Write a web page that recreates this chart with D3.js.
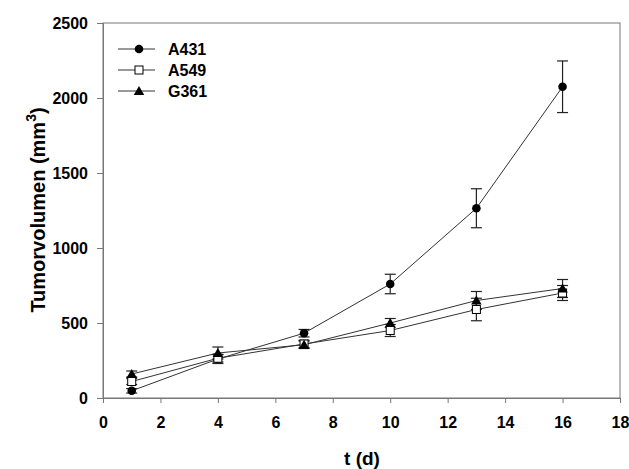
<!DOCTYPE html>
<html>
<head>
<meta charset="utf-8">
<script src="https://cdn.jsdelivr.net/npm/d3@7"></script>
<style>
  body { margin: 0; background: #fff; }
  text { font-family: "Liberation Sans", Arial, sans-serif; font-weight: bold; fill: #000; }
</style>
</head>
<body>
<svg id="chart" width="629" height="469"></svg>
<script>
// data
let days = [1, 4, 7, 10, 13, 16]
let a431 = [48, 260, 432, 760, 1265, 2075]
let a431Err = [15, 30, 25, 65, 130, 172]
let a549 = [110, 265, 360, 450, 590, 700]
let a549Err = [20, 25, 25, 40, 75, 50]
let g361 = [160, 300, 355, 500, 650, 730]
let g361Err = [20, 40, 25, 30, 60, 60]
let seriesNames = ['A431', 'A549', 'G361']
let xTicks = [0, 2, 4, 6, 8, 10, 12, 14, 16, 18]
let yTicks = [0, 500, 1000, 1500, 2000, 2500]

let svg = d3.select('#chart')
let plotLeft = 103, plotRight = 620, plotTop = 23, plotBottom = 398
let axisColor = '#777'

let x = d3.scaleLinear().domain([0, 18]).range([plotLeft, plotRight])
let y = d3.scaleLinear().domain([0, 2500]).range([plotBottom, plotTop])

// frame
svg.append('rect')
    .attr('x', plotLeft).attr('y', plotTop)
    .attr('width', plotRight - plotLeft).attr('height', plotBottom - plotTop)
    .attr('fill', 'none').attr('stroke', axisColor).attr('stroke-width', 1)

let xAxis = svg.append('g')
    .attr('transform', `translate(0,${plotBottom})`)
    .call(d3.axisBottom(x).tickValues(xTicks).tickFormat(d3.format('d')).tickSize(5).tickPadding(14))
let yAxis = svg.append('g')
    .attr('transform', `translate(${plotLeft},0)`)
    .call(d3.axisLeft(y).tickValues(yTicks).tickFormat(d3.format('d')).tickSize(6).tickPadding(9))

for (let ax of [xAxis, yAxis]) {
    ax.select('.domain').attr('stroke', axisColor)
    ax.selectAll('line').attr('stroke', axisColor)
    ax.selectAll('text').style('font-size', '16px')
        .style('font-family', '"Liberation Sans", Arial, sans-serif').style('font-weight', 'bold')
}

let series = [
    { name: seriesNames[0], vals: a431, err: a431Err, shape: 'circle' },
    { name: seriesNames[1], vals: a549, err: a549Err, shape: 'square' },
    { name: seriesNames[2], vals: g361, err: g361Err, shape: 'triangle' }
]

let line = d3.line().x(d => x(d[0])).y(d => y(d[1]))

function drawMarker(g, shape, cx, cy) {
    if (shape === 'circle') {
        g.append('circle').attr('cx', cx).attr('cy', cy).attr('r', 4.3).attr('fill', '#000')
    } else if (shape === 'square') {
        g.append('rect').attr('x', cx - 4).attr('y', cy - 4).attr('width', 8).attr('height', 8)
            .attr('fill', '#fff').attr('stroke', '#000').attr('stroke-width', 1)
    } else {
        g.append('path')
            .attr('d', d3.symbol().type(d3.symbolTriangle).size(48)())
            .attr('transform', `translate(${cx},${cy + 1})`)
            .attr('fill', '#000')
    }
}

// error bars first, then lines, then markers
series.forEach(s => {
    let g = svg.append('g')
    days.forEach((d, i) => {
        let cx = x(d), y1 = y(s.vals[i] + s.err[i]), y0 = y(s.vals[i] - s.err[i])
        g.append('line').attr('x1', cx).attr('x2', cx).attr('y1', y1).attr('y2', y0)
            .attr('stroke', '#222').attr('stroke-width', 1.2)
        for (let yy of [y1, y0]) {
            g.append('line').attr('x1', cx - 5.5).attr('x2', cx + 5.5).attr('y1', yy).attr('y2', yy)
                .attr('stroke', '#222').attr('stroke-width', 1.2)
        }
    })
})

series.forEach(s => {
    svg.append('path')
        .datum(days.map((d, i) => [d, s.vals[i]]))
        .attr('d', line)
        .attr('fill', 'none')
        .attr('stroke', '#333')
        .attr('stroke-width', 1)
})

series.forEach(s => {
    let g = svg.append('g')
    days.forEach((d, i) => drawMarker(g, s.shape, x(d), y(s.vals[i])))
})

// legend
let legend = svg.append('g')
series.forEach((s, i) => {
    let ly = 49 + i * 21
    legend.append('line').attr('x1', 118).attr('x2', 155).attr('y1', ly).attr('y2', ly)
        .attr('stroke', '#333').attr('stroke-width', 1)
    drawMarker(legend, s.shape, 139, ly)
    legend.append('text').attr('x', 168).attr('y', ly + 6)
        .style('font-size', '16px').text(s.name)
})

// axis titles
svg.append('text')
    .attr('x', 362).attr('y', 465)
    .attr('text-anchor', 'middle')
    .style('font-size', '19px')
    .text('t (d)')

let yt = svg.append('text')
    .attr('transform', `translate(45,210) rotate(-90)`)
    .attr('text-anchor', 'middle')
    .style('font-size', '20px')
yt.append('tspan').text('Tumorvolumen (mm')
yt.append('tspan').attr('dy', -9).style('font-size', '14px').text('3')
yt.append('tspan').attr('dy', 9).text(')')
</script>
</body>
</html>
